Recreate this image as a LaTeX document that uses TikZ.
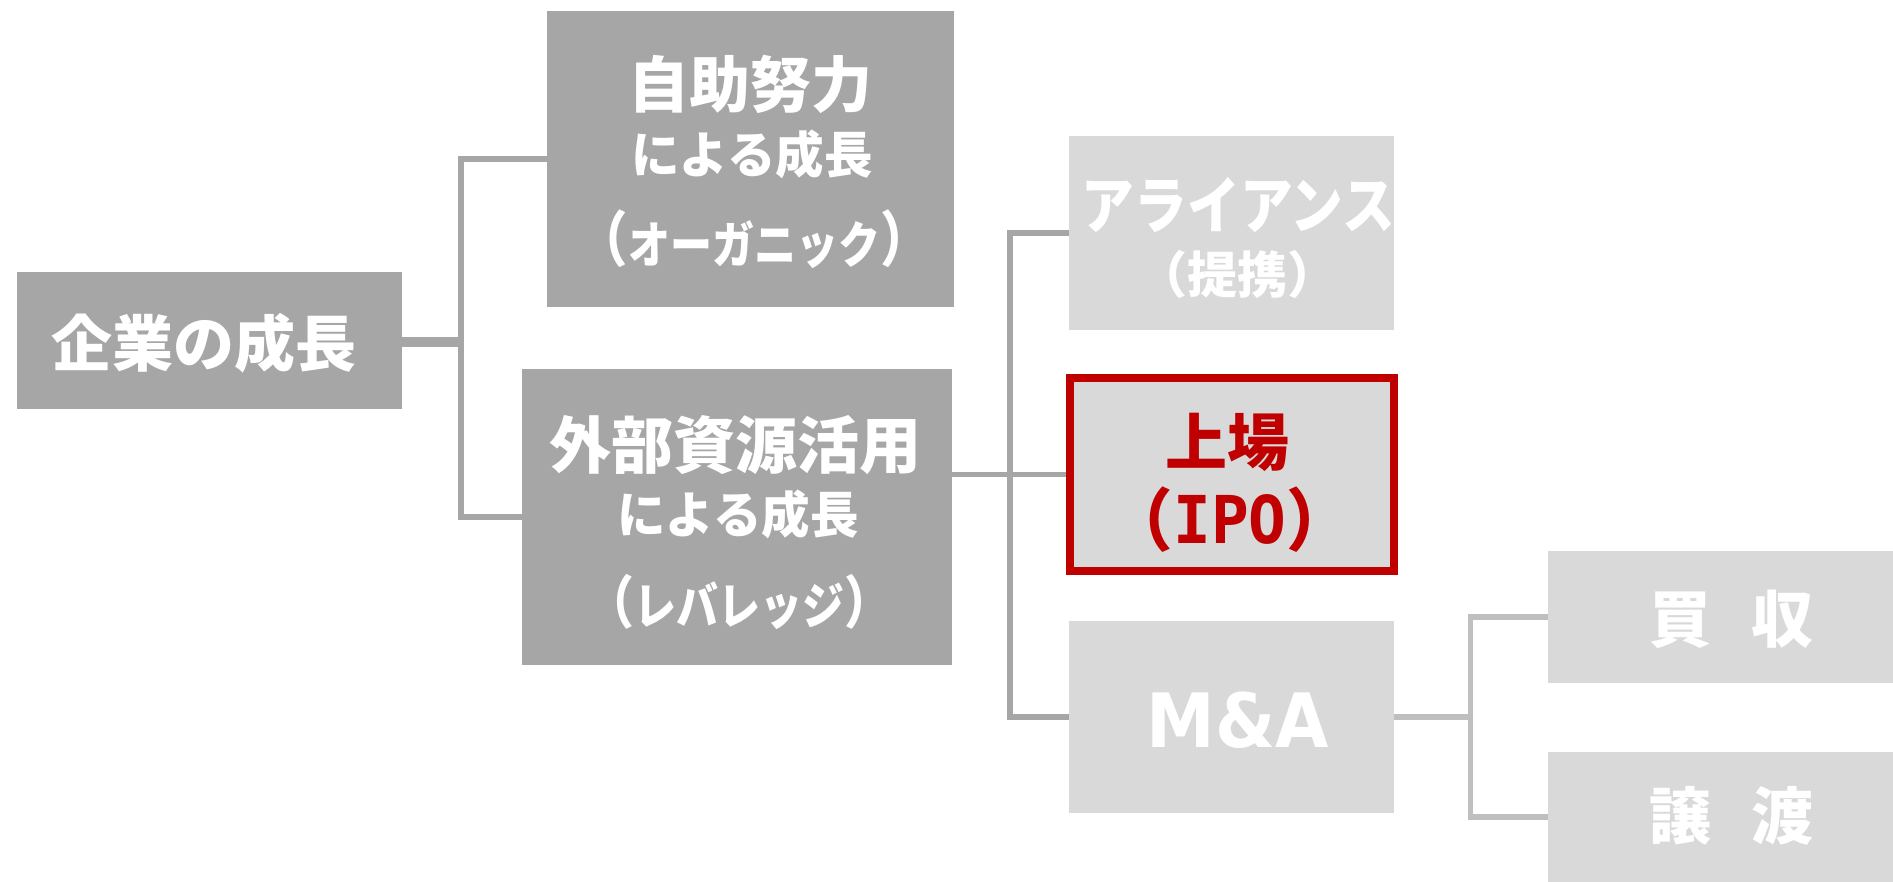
\documentclass[tikz,border=0pt]{standalone}
\usepackage{fontspec}
\usepackage{graphicx}
\usetikzlibrary{calc}
\newfontfamily\jp{Noto Sans CJK JP}
\newfontfamily\dmono{DejaVu Sans Mono}
\newfontfamily\dsans{DejaVu Sans}
\definecolor{dkgray}{HTML}{A6A6A6}
\definecolor{ltgray}{HTML}{D9D9D9}
\definecolor{lnlight}{HTML}{BFBFBF}
\definecolor{redc}{HTML}{C00000}
\newcommand\fs[1]{\fontsize{#1}{#1}\selectfont}
\newcommand\lpar[2]{\raisebox{#2}{\fs{#1}（}}
\newcommand\rpar[2]{\raisebox{#2}{\fs{#1}）}}
\begin{document}
\begin{tikzpicture}[x=1pt,y=-1pt,
  box/.style={rectangle, inner sep=0pt, outer sep=0pt},
  dkbox/.style={box, fill=dkgray},
  ltbox/.style={box, fill=ltgray},
  redbox/.style={rectangle, inner sep=0pt, fill=ltgray, draw=redc, line width=8pt, outer sep=4pt},
  txt/.style={inner sep=0pt, outer sep=0pt, anchor=base, text=white, font=\jp\bfseries},
  redtxt/.style={txt, text=redc},
  conn/.style={draw=dkgray, line width=5.5pt},
  conn2/.style={draw=lnlight, line width=5.5pt}]
\useasboundingbox (0,0) rectangle (1893,882);

% boxes
\node[dkbox, minimum width=385pt, minimum height=137pt] (A) at (209.5,340.5) {};
\node[dkbox, minimum width=407pt, minimum height=296pt] (B) at (750,159) {};
\node[dkbox, minimum width=430pt, minimum height=296pt] (C) at (737,517) {};
\node[ltbox, minimum width=325pt, minimum height=194pt] (D) at (1231.5,233) {};
\node[redbox, minimum width=324pt, minimum height=193pt] (E) at (1232,474.5) {};
\node[ltbox, minimum width=325pt, minimum height=192pt] (F) at (1231.5,717) {};
\node[ltbox, minimum width=345pt, minimum height=132pt] (G) at (1720.5,617) {};
\node[ltbox, minimum width=345pt, minimum height=130pt] (H) at (1720.5,817) {};

% connectors
\draw[conn] ($(A.east)+(0,-1)$) -- ++(59,0) |- (B.west);
\draw[conn] ($(A.east)+(0,4)$) -- ++(59,0) |- (C.west);
\draw[conn] (C.east |- E.west) -- (E.west);
\draw[conn] (C.east |- E.west) -- ++(58,0) |- (D.west);
\draw[conn] (C.east |- E.west) -- ++(58,0) |- (F.west);
\draw[conn2] (F.east) -- ++(76.5,0) |- (G.west);
\draw[conn2] (F.east) -- ++(76.5,0) |- (H.west);

% texts
\node[txt] (A1) at (203.5,367) {\fs{61}企業の成長};
\node[txt] (B1) at (750,108) {\fs{61}自助努力};
\node[txt] (B2) at (752,174) {\fs{50}\scalebox{0.97}[1]{による成長}};
\node[txt] (B3) at (754,264) {\fs{50}\scalebox{0.84}[1]{\lpar{60}{2pt}オーガニック\rpar{60}{2pt}}};
\node[txt] (C1) at (735,468) {\fs{62}外部資源活用};
\node[txt] (C2) at (738,533) {\fs{50}\scalebox{0.97}[1]{による成長}};
\node[txt] (C3) at (739,624) {\fs{50}\scalebox{0.84}[1]{\lpar{57}{1pt}レバレッジ\rpar{57}{1pt}}};
\node[txt] (D1) at (1238.5,229) {\fs{62}\scalebox{0.85}[1]{アライアンス}};
\node[txt] (D2) at (1237.5,294) {\fs{50}（提携）};
\node[redtxt] (E1) at (1227.5,465) {\fs{62}上場};
\node[redtxt] (E2) at (1230,543) {\scalebox{0.95}[1]{\lpar{68}{-2pt}{\dmono\bfseries\fs{66}IPO}\rpar{68}{-2pt}}};
\node[txt] (F1) at (1238,747) {\dsans\bfseries\fs{75}\scalebox{0.92}[1]{M\&A}};
\node[txt] (G1) at (1731,642) {\fs{62}買\hspace{40pt}収};
\node[txt] (H1) at (1731,839) {\fs{62}譲\hspace{40pt}渡};
\end{tikzpicture}
\end{document}
